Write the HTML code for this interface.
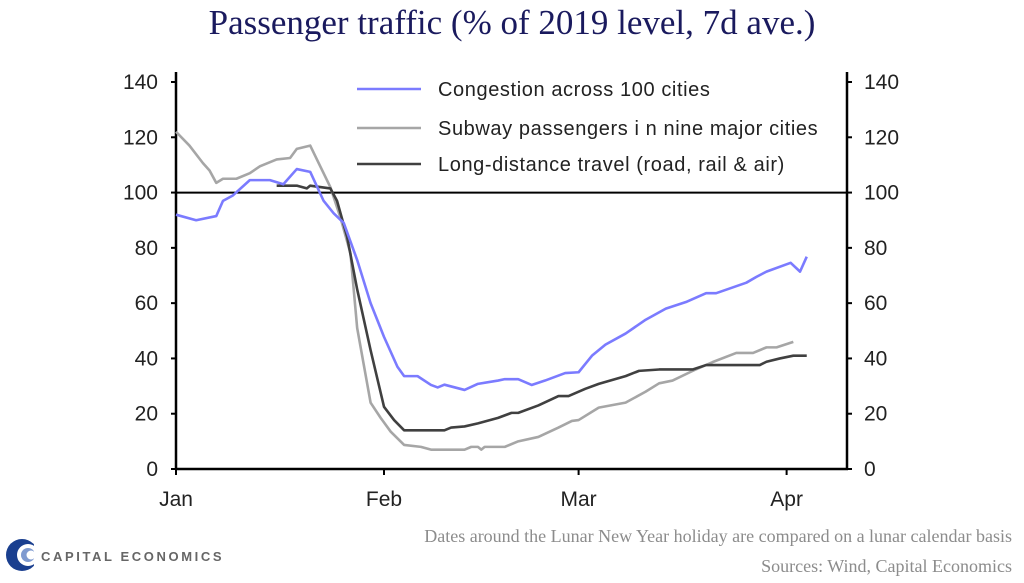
<!DOCTYPE html>
<html><head><meta charset="utf-8"><style>
body{margin:0;background:#fff;}
svg{display:block;}
</style></head><body>
<svg id="chart" width="1024" height="583" xmlns="http://www.w3.org/2000/svg">
<text x="512" y="34" text-anchor="middle" font-family="Liberation Serif, serif" font-size="35" fill="#1a1a5e">Passenger traffic (% of 2019 level, 7d ave.)</text>
<g id="axes"></g>
<g id="series"></g>
<g id="legend"></g>
<text x="1012" y="542" text-anchor="end" font-family="Liberation Serif, serif" font-size="18" fill="#8c8c8c">Dates around the Lunar New Year holiday are compared on a lunar calendar basis</text>
<text x="1012" y="572" text-anchor="end" font-family="Liberation Serif, serif" font-size="18" fill="#8c8c8c">Sources: Wind, Capital Economics</text>
<g>
<circle cx="22" cy="555" r="16" fill="#1a3f8f"/>
<circle cx="28" cy="555" r="11" fill="#fff"/>
<circle cx="28" cy="555" r="7" fill="#7f9ad0"/>
<circle cx="31" cy="555" r="4.5" fill="#fff"/>
<rect x="34" y="540" width="8" height="30" fill="#fff"/>
<text x="41" y="561" font-family="Liberation Sans, sans-serif" font-size="13" font-weight="bold" letter-spacing="2.6" fill="#666">CAPITAL ECONOMICS</text>
</g>
</svg>
<script>
const yTicks=[0,20,40,60,80,100,120,140];
const monthLabels=["Jan","Feb","Mar","Apr"];
const monthDays=[0,31,60,91];
const congDays=[0,3,6,7,8.5,11,14,16,18,20,22,23.5,25,27,29,31,33,34,36,38,39,40,43,45,48,49,51,53,55,58,60,61,62,64,67,70,73,76,79,80.5,85,86.5,88,91.6,93,94];
const congVals=[92,90,91.5,97,99,104.5,104.5,103,108.5,107.5,97,92.5,89,75.6,60,47.8,37,33.6,33.6,30.4,29.5,30.5,28.6,30.8,32,32.5,32.5,30.4,32,34.7,35,38,41,45,49,54,58,60.4,63.6,63.6,67.4,69.5,71.4,74.6,71.4,76.8];
const subwayDays=[0,2,4,5,6,7,9,11,12.5,15,17,18,20,21,23,24.5,26,27,29,30.5,32,34,36.5,38,43,44,45,45.5,46,49,51,54,57,59,60,63,67,70,72,74,77,80,83.5,86,88,89.5,92];
const subwayVals=[122,117,110.7,108,103.5,105,105,107,109.5,112,112.5,115.8,117,112,102,91,78,51,24,18.5,13.5,8.7,8,7,7,8,8,7,8,8,10,11.6,15,17.4,17.7,22.2,24,28,31,32,35.5,38.7,42,42,44,44,46];
const longDays=[15,18,19.5,20,23,24,25.5,27,29,31,32.5,34,40,41,43,45,46.5,48,50,51,54,57,58.5,61,63,67,69,72,77,79,87,88,90,92,94];
const longVals=[102.5,102.5,101.5,102.5,101.5,97,84,65,43,22.5,17.7,14,14,15,15.4,16.5,17.5,18.5,20.3,20.3,23,26.4,26.4,29,30.8,33.6,35.5,36,36,37.6,37.6,38.8,40,41,41];
const seriesNames=["Congestion across 100 cities","Subway passengers i n nine major cities","Long-distance travel (road, rail & air)"];

const NS="http://www.w3.org/2000/svg";
const X0=176,X1=847,Y0=469,Y1=82;
const xS=d=>X0+(X1-X0)*d/100;
const yS=v=>Y0-(Y0-Y1)*v/140;
function mk(tag,attrs,parent){const e=document.createElementNS(NS,tag);for(const k in attrs)e.setAttribute(k,attrs[k]);parent.appendChild(e);return e;}
const axes=document.getElementById('axes');
const F="Liberation Sans, sans-serif";
let el=mk('line',{x1:X0,y1:Y1-10,x2:X0,y2:Y0+1,stroke:'#000','stroke-width':2.5},axes);


el=mk('line',{x1:X1,y1:Y1-10,x2:X1,y2:Y0+1,stroke:'#000','stroke-width':2.5},axes);


el=mk('line',{x1:X0-1,y1:Y0,x2:X1+1,y2:Y0,stroke:'#000','stroke-width':2.5},axes);


yTicks.forEach(v=>{
 const y=yS(v);
 mk('line',{x1:X0-5,y1:y,x2:X0,y2:y,stroke:'#000','stroke-width':2},axes);
 mk('line',{x1:X1,y1:y,x2:X1+5,y2:y,stroke:'#000','stroke-width':2},axes);
 let t=mk('text',{x:158,y:y+7,'text-anchor':'end','font-family':F,'font-size':21,fill:'#222'},axes);
 t.textContent=v;
 
 
 t=mk('text',{x:864,y:y+7,'text-anchor':'start','font-family':F,'font-size':21,fill:'#222'},axes);
 t.textContent=v;
 
 
});
el=mk('line',{x1:X0,y1:yS(100),x2:X1,y2:yS(100),stroke:'#000','stroke-width':2},axes);


monthLabels.forEach((m,i)=>{
 const x=xS(monthDays[i]);
 mk('line',{x1:x,y1:Y0,x2:x,y2:Y0+6,stroke:'#000','stroke-width':2},axes);
 const t=mk('text',{x:x,y:Y0+37,'text-anchor':'middle','font-family':F,'font-size':21,fill:'#222'},axes);
 t.textContent=m;
 
 
});
const ser=document.getElementById('series');
function line(days,vals,color,name){
 const p=mk('polyline',{points:days.map((d,i)=>xS(d)+','+yS(vals[i])).join(' '),fill:'none',stroke:color,'stroke-width':2.6,'stroke-linejoin':'round'},ser);
 
 
}
line(subwayDays,subwayVals,'#a6a6a6','subway-passengers-line');
line(longDays,longVals,'#404040','long-distance-travel-line');
line(congDays,congVals,'#7b7bff','congestion-line');
const leg=document.getElementById('legend');
const colors=['#7b7bff','#a6a6a6','#404040'];
const legY=[89,128,164];
seriesNames.forEach((n,i)=>{
 const g=mk('g',{},leg);
 
 
 mk('line',{x1:357,y1:legY[i],x2:421,y2:legY[i],stroke:colors[i],'stroke-width':2.6},g);
 const t=mk('text',{x:438,y:legY[i]+7,'font-family':F,'font-size':20,'letter-spacing':0.6,fill:'#222'},g);
 t.textContent=n;
});
</script>
</body></html>
